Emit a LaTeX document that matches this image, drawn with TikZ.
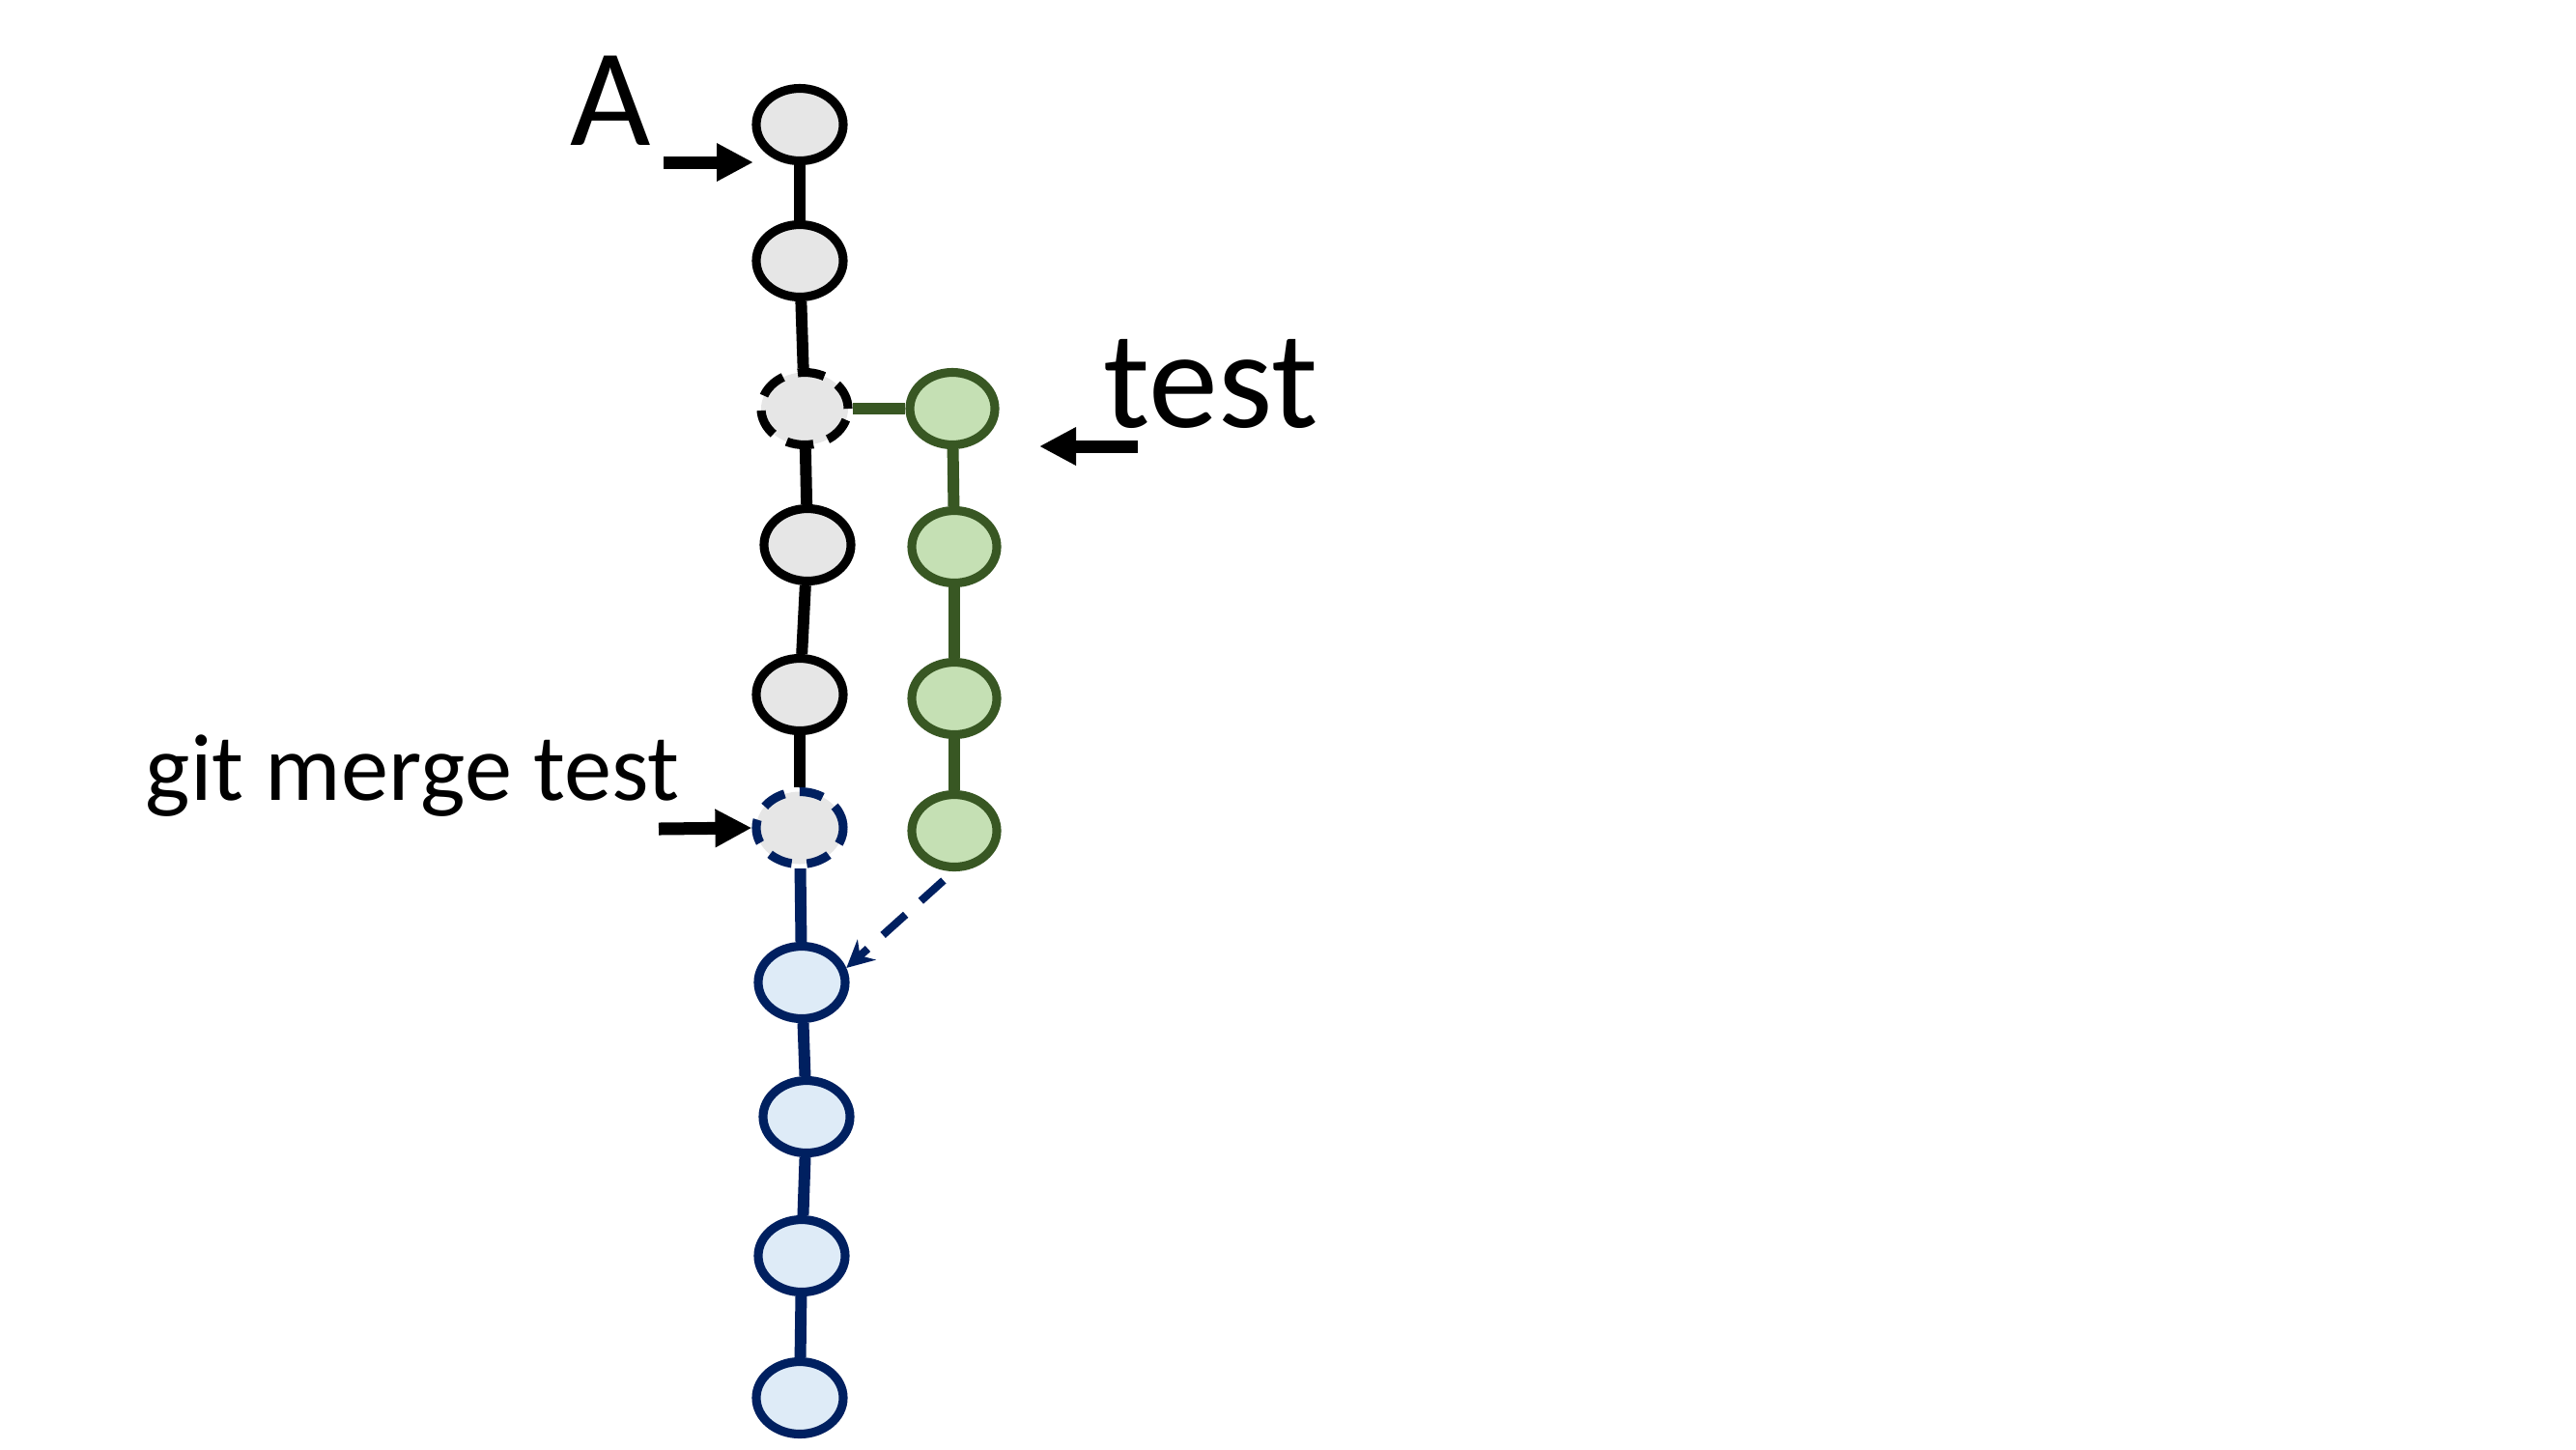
\documentclass[tikz,border=0pt]{standalone}
\usepackage{fontspec}
\setmainfont{Carlito}
\usetikzlibrary{arrows.meta,shapes.geometric}

\definecolor{commitgray}{HTML}{E6E6E6}
\definecolor{testgreen}{HTML}{385723}
\definecolor{testfill}{HTML}{C5E0B4}
\definecolor{mergeblue}{HTML}{002060}
\definecolor{mergefill}{HTML}{DEEBF7}

\tikzset{
  commit/.style={ellipse,draw=black,fill=commitgray,line width=2.6pt,
    minimum width=.9cm,minimum height=.75cm,inner sep=0pt},
  testcommit/.style={commit,draw=testgreen,fill=testfill,minimum width=.88cm},
  mergecommit/.style={commit,draw=mergeblue,fill=mergefill},
  link/.style={line width=3.4pt},
  pointer/.style={line width=3.7pt,-{Triangle[length=.38cm,width=.37cm]}},
}

\begin{document}
\begin{tikzpicture}
\useasboundingbox (0,0) rectangle (26.67,-15);
% master
\node[commit] (m1) at (8.28,-1.29) {};
\node[commit] (m2) at (8.28,-2.70) {};
\node[commit,fill=commitgray,dash pattern=on 8pt off 4.5pt] (m3) at (8.33,-4.23) {};
\node[commit] (m4) at (8.36,-5.64) {};
\node[commit] (m5) at (8.28,-7.19) {};
\node[commit,draw=mergeblue,dash pattern=on 7pt off 4.5pt] (m6) at (8.28,-8.57) {};
\node[mergecommit] (m7) at (8.30,-10.17) {};
\node[mergecommit] (m8) at (8.35,-11.56) {};
\node[mergecommit] (m9) at (8.30,-13.00) {};
\node[mergecommit] (m10) at (8.28,-14.47) {};
% test
\node[testcommit] (g1) at (9.86,-4.23) {};
\node[testcommit] (g2) at (9.88,-5.66) {};
\node[testcommit] (g3) at (9.88,-7.23) {};
\node[testcommit] (g4) at (9.88,-8.60) {};

\draw[link] (m1) -- (m2);
\draw[link] (m2) -- (m3);
\draw[link] (m3) -- (m4);
\draw[link] (m4) -- (m5);
\draw[link] (m5) -- (m6);
\draw[link,draw=mergeblue] (m6) -- (m7);
\draw[link,draw=mergeblue] (m7) -- (m8);
\draw[link,draw=mergeblue] (m8) -- (m9);
\draw[link,draw=mergeblue] (m9) -- (m10);
\draw[link,draw=testgreen] (m3) -- (g1);
\draw[link,draw=testgreen] (g1) -- (g2);
\draw[link,draw=testgreen] (g2) -- (g3);
\draw[link,draw=testgreen] (g3) -- (g4);
\draw[mergeblue,line width=2.3pt,dash pattern=on 9pt off 6pt,shorten <=4pt,
  -{Stealth[length=8pt,width=8pt]}] (g4.269) -- (m7.18);

% labels
\node[anchor=base west,inner sep=0pt,font=\fontsize{41}{41}\selectfont] (labA) at (5.90,-1.50) {A};
\node[anchor=base west,inner sep=0pt,font=\fontsize{41}{41}\selectfont] (labTest) at (11.42,-4.42) {test};
\node[anchor=base west,inner sep=0pt,font=\fontsize{28}{28}\selectfont] (labMerge) at (1.50,-8.28) {git merge test};
\coordinate (aTail) at (6.87,-1.68);
\coordinate (aTip) at (7.80,-1.68);
\coordinate (testTail) at (11.78,-4.62);
\coordinate (testTip) at (10.76,-4.62);
\coordinate (mergeTail) at (6.82,-8.58);
\draw[pointer] (aTail) -- (aTip);
\draw[pointer] (testTail) -- (testTip);
\draw[pointer] (mergeTail) -- (m6.west);
\end{tikzpicture}
\end{document}
